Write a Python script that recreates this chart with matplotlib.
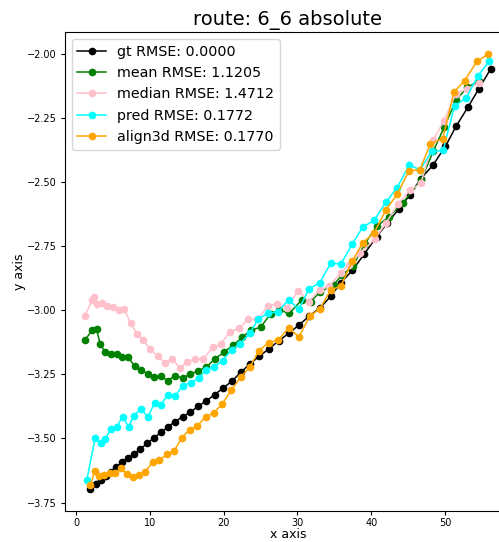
import matplotlib
matplotlib.use('Agg')
import matplotlib.pyplot as plt

# trajectoires (x, y) pour chaque méthode
gt_x = [1.95, 2.67, 3.35, 3.99, 4.67, 5.39, 6.2, 7.06, 7.83, 8.73, 9.64, 10.58, 11.53, 12.48,
        13.43, 14.43, 15.47, 16.55, 17.64, 18.77, 19.95, 21.17, 22.35, 23.57, 24.8, 26.15,
        27.46, 28.82, 30.22, 31.6, 33.07, 34.5, 35.9, 37.45, 39.07, 40.76, 42.2, 43.8, 45.28,
        46.73, 48.36, 50.07, 51.5, 53.1, 54.6, 56.2]
gt_y = [-3.697, -3.679, -3.662, -3.646, -3.631, -3.613, -3.593, -3.577, -3.562, -3.541, -3.519,
        -3.497, -3.476, -3.454, -3.434, -3.415, -3.398, -3.374, -3.354, -3.329, -3.303, -3.275,
        -3.241, -3.209, -3.18, -3.15, -3.119, -3.09, -3.057, -3.023, -2.99, -2.946, -2.892,
        -2.844, -2.78, -2.712, -2.659, -2.603, -2.549, -2.486, -2.434, -2.36, -2.282, -2.208,
        -2.135, -2.058]

mean_x = [1.18, 2.22, 2.77, 3.26, 3.93, 4.67, 5.48, 6.24, 7.06, 7.96, 8.82, 9.69, 10.58, 11.45,
          12.4, 13.43, 14.43, 15.47, 16.55, 17.6, 18.82, 20.04, 21.26, 22.53, 23.66, 25.0, 26.4,
          27.55, 28.9, 30.6, 31.8, 33.07, 34.9, 36.1, 37.5, 39.1, 40.76, 42.4, 44.3, 46.8, 48.4,
          49.9, 51.5, 53.0, 54.6]
mean_y = [-3.116, -3.077, -3.073, -3.132, -3.161, -3.171, -3.171, -3.183, -3.183, -3.219, -3.232,
          -3.249, -3.261, -3.257, -3.274, -3.255, -3.264, -3.25, -3.236, -3.222, -3.19, -3.163,
          -3.137, -3.105, -3.078, -3.066, -3.013, -2.999, -3.012, -2.959, -2.966, -2.928, -2.9,
          -2.861, -2.828, -2.742, -2.672, -2.635, -2.58, -2.49, -2.38, -2.285, -2.18, -2.13,
          -2.106]

median_x = [1.18, 2.22, 2.44, 2.9, 3.53, 4.2, 4.94, 5.75, 6.51, 7.38, 8.28, 9.09, 10.0, 11.04,
            12.03, 13.0, 14.07, 15.06, 16.12, 17.25, 18.5, 19.6, 20.8, 22.08, 23.35, 24.55, 26.05,
            27.27, 28.6, 30.1, 31.55, 33.05, 34.3, 35.9, 37.0, 38.5, 40.5, 42.0, 43.6, 45.3,
            46.75, 48.4, 49.85, 51.5, 53.0, 54.6]
median_y = [-3.021, -2.959, -2.948, -2.975, -2.972, -2.985, -2.988, -2.999, -2.994, -3.05, -3.092,
            -3.115, -3.152, -3.177, -3.206, -3.188, -3.226, -3.2, -3.19, -3.19, -3.145, -3.132,
            -3.085, -3.07, -3.035, -3.035, -2.982, -2.976, -2.99, -2.923, -2.966, -2.92, -2.906,
            -2.853, -2.822, -2.777, -2.722, -2.66, -2.586, -2.53, -2.505, -2.337, -2.26, -2.154,
            -2.136, -2.113]

pred_x = [1.45, 2.58, 3.31, 3.94, 4.67, 5.48, 6.3, 7.11, 7.83, 8.78, 9.73, 10.64, 11.45, 12.44,
          13.45, 14.43, 15.52, 16.6, 17.65, 18.74, 19.86, 21.1, 22.25, 23.57, 24.7, 25.98, 27.43,
          28.81, 30.18, 31.6, 33.0, 34.5, 35.9, 37.42, 38.86, 40.4, 42.0, 43.52, 45.17, 46.6,
          48.2, 49.75, 51.3, 52.9, 54.5, 56.0]
pred_y = [-3.662, -3.498, -3.516, -3.503, -3.464, -3.456, -3.415, -3.454, -3.412, -3.385, -3.415,
          -3.362, -3.37, -3.329, -3.333, -3.295, -3.282, -3.266, -3.232, -3.22, -3.196, -3.153,
          -3.13, -3.089, -3.033, -3.012, -3.005, -2.958, -2.996, -2.915, -2.894, -2.817, -2.819,
          -2.742, -2.675, -2.649, -2.578, -2.521, -2.432, -2.452, -2.38, -2.376, -2.203, -2.17,
          -2.084, -2.028]

align_x = [1.95, 2.52, 3.13, 3.8, 4.57, 5.3, 6.08, 6.87, 7.65, 8.5, 9.39, 10.41, 11.27, 12.3,
           13.33, 14.3, 15.38, 16.45, 17.55, 18.65, 19.83, 21.03, 22.3, 23.57, 24.8, 26.12, 27.43,
           28.8, 30.22, 31.65, 33.07, 34.5, 35.9, 37.45, 38.88, 40.4, 42.0, 43.53, 45.13, 46.6,
           48.0, 49.7, 51.2, 52.65, 54.35, 55.9]
align_y = [-3.682, -3.627, -3.648, -3.641, -3.635, -3.633, -3.616, -3.64, -3.65, -3.644, -3.63,
           -3.59, -3.585, -3.562, -3.547, -3.498, -3.466, -3.451, -3.415, -3.4, -3.365, -3.312,
           -3.262, -3.22, -3.157, -3.126, -3.115, -3.069, -3.104, -3.023, -2.993, -2.921, -2.905,
           -2.807, -2.736, -2.698, -2.608, -2.547, -2.455, -2.452, -2.351, -2.33, -2.149, -2.104,
           -2.028, -2.0]

rmse = {'gt': 0.0, 'mean': 1.1205, 'median': 1.4712, 'pred': 0.1772, 'align3d': 0.1770}

fig = plt.figure(figsize=(4.99, 5.42), dpi=100)
# l'axe déborde volontairement à droite de la figure
ax = fig.add_axes([64.5 / 499, 1 - 510.7 / 542, 446.5 / 499, 478.4 / 542])

series = [
    ('gt', gt_x, gt_y, 'black'),
    ('mean', mean_x, mean_y, 'green'),
    ('median', median_x, median_y, 'pink'),
    ('pred', pred_x, pred_y, 'cyan'),
    ('align3d', align_x, align_y, 'orange'),
]
for name, xs, ys, color in series:
    ax.plot(xs, ys, '-o', color=color, lw=1.1, ms=4.5,
            label=f'{name} RMSE: {rmse[name]:.4f}')

ax.set_title('route: 6_6 absolute', fontsize=14, pad=5)
ax.set_xlabel('x axis', fontsize=9, labelpad=0)
ax.set_ylabel('y axis', fontsize=9, labelpad=1)
ax.set_yticks([-3.75, -3.5, -3.25, -3.0, -2.75, -2.5, -2.25, -2.0])
ax.tick_params(labelsize=7, length=3, pad=2.5)
ax.legend(loc='upper left', fontsize=10.3)

fig.savefig('out.png', dpi=100)
